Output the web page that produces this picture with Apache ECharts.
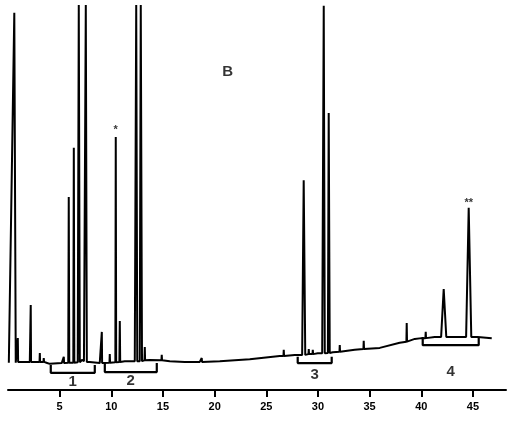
<!DOCTYPE html>
<html>
<head>
<meta charset="utf-8">
<script src="https://cdn.jsdelivr.net/npm/echarts@6/dist/echarts.min.js"></script>
<style>
html,body{margin:0;padding:0;background:#fff;}
#c{width:514px;height:424px;}
</style>
</head>
<body>
<div id="c"></div>
<script>
// Retention-time tick labels (min)
var tickLabels = [5, 10, 15, 20, 25, 30, 35, 40, 45];

// Baseline vertices of the trace (time in min, signal in relative units)
var baseTime  = [0.08, 0.85, 1.14, 2.11, 2.40, 3.72, 3.78, 4.04, 5.20, 7.15, 7.35, 7.91, 8.88, 11.30, 11.88, 13.72, 15.66, 17.11, 18.56, 20.50, 23.40, 26.30, 27.75, 29.98, 31.43, 33.56, 35.98, 37.91, 39.37, 40.04, 41.30, 42.95, 43.92, 45.46, 46.82];
var baseLevel = [7.0, 7.2, 7.2, 7.2, 7.2, 7.0, 6.7, 6.7, 6.9, 7.7, 7.4, 7.2, 6.9, 7.4, 7.4, 7.7, 7.4, 7.2, 7.2, 7.4, 7.9, 8.7, 9.0, 9.4, 9.7, 10.3, 10.8, 12.1, 13.1, 13.3, 13.6, 13.6, 13.6, 13.6, 13.3];

// Peaks: apex time, apex signal, foot level, rise and fall widths (min)
var peakTime = [0.61, 0.95, 2.20, 3.08, 3.46, 5.40, 5.88, 6.37, 6.85, 7.53, 9.08, 9.85, 10.43, 10.82, 12.41, 12.85, 13.24, 14.88, 18.75, 26.69, 28.62, 29.11, 29.50, 30.56, 31.04, 32.11, 34.43, 38.59, 40.43, 42.17, 44.59];
var peakTop  = [96.7, 13.3, 21.8, 9.5, 8.2, 8.5, 49.5, 62.1, 98.7, 98.7, 14.9, 9.2, 64.9, 17.7, 98.7, 98.7, 11.0, 9.0, 8.2, 10.3, 53.8, 10.5, 10.3, 98.5, 71.0, 11.5, 12.6, 17.2, 14.9, 25.9, 46.7];
var peakFoot = [7.0, 7.2, 7.2, 7.2, 7.2, 6.9, 7.0, 7.0, 7.1, 7.2, 6.9, 7.0, 7.1, 7.2, 7.4, 7.4, 7.6, 7.6, 7.2, 8.7, 9.0, 9.2, 9.2, 9.4, 9.5, 9.8, 10.5, 12.4, 13.3, 13.6, 13.6];
var peakRise = [0.45, 0.03, 0.03, 0.03, 0.03, 0.03, 0.05, 0.05, 0.10, 0.10, 0.03, 0.03, 0.04, 0.04, 0.14, 0.10, 0.03, 0.03, 0.03, 0.03, 0.15, 0.03, 0.03, 0.15, 0.08, 0.03, 0.03, 0.03, 0.03, 0.25, 0.25];
var peakFall = [0.14, 0.03, 0.03, 0.03, 0.03, 0.03, 0.05, 0.05, 0.10, 0.10, 0.03, 0.03, 0.04, 0.04, 0.10, 0.12, 0.03, 0.03, 0.03, 0.03, 0.15, 0.03, 0.03, 0.10, 0.10, 0.03, 0.03, 0.03, 0.03, 0.25, 0.25];

// Peak marks
var markText  = ['*', '**'];
var markTime  = [10.43, 44.59];
var markLevel = [66.7, 47.9];

// Fraction groups (brackets under the trace)
var groupNames  = ['1', '2', '3', '4'];
var groupStart  = [4.14, 9.37, 28.04, 40.14];
var groupEnd    = [8.40, 14.40, 31.33, 45.56];
var groupTop    = [6.4, 6.9, 8.5, 13.6];
var groupBottom = [4.4, 4.6, 6.9, 11.5];
var groupLabelLevel = [2.1, 2.4, 4.0, 4.7];

var panelLabel = 'B';
var panelTime = 21.27, panelLevel = 81.5;

// build trace
var pts = [];
for (var i = 0; i < baseTime.length; i++) pts.push([baseTime[i], baseLevel[i]]);
for (var j = 0; j < peakTime.length; j++) {
  pts.push([peakTime[j] - peakRise[j], peakFoot[j]]);
  pts.push([peakTime[j], peakTop[j]]);
  pts.push([peakTime[j] + peakFall[j], peakFoot[j]]);
}
pts.sort(function (a, b) { return a[0] - b[0]; });

var series = [{
  type: 'line', data: pts, showSymbol: false, silent: true,
  lineStyle: { color: '#000', width: 2 }, z: 3
}];
for (var k = 0; k < groupNames.length; k++) {
  series.push({
    type: 'line', showSymbol: false, silent: true,
    lineStyle: { color: '#000', width: 2.2 },
    data: [[groupStart[k], groupTop[k]], [groupStart[k], groupBottom[k]], [groupEnd[k], groupBottom[k]], [groupEnd[k], groupTop[k]]]
  });
}
var lbl = { show: true, position: 'inside', formatter: '{b}', color: '#000', textBorderWidth: 0, fontFamily: 'Liberation Sans' };
series.push({
  type: 'scatter', symbolSize: 0, silent: true,
  data: groupNames.map(function (n, k) { return { value: [(groupStart[k] + groupEnd[k]) / 2, groupLabelLevel[k]], name: n }; }),
  label: Object.assign({}, lbl, { fontWeight: 'bold', fontSize: 15 })
});
series.push({
  type: 'scatter', symbolSize: 0, silent: true,
  data: markText.map(function (n, k) { return { value: [markTime[k], markLevel[k]], name: n }; }),
  label: Object.assign({}, lbl, { fontWeight: 'bold', fontSize: 11 })
});
series.push({
  type: 'scatter', symbolSize: 0, silent: true,
  data: [{ value: [panelTime, panelLevel], name: panelLabel }],
  label: Object.assign({}, lbl, { fontWeight: 'bold', fontSize: 15 })
});

var chart = echarts.init(document.getElementById('c'), null, { renderer: 'canvas' });
chart.setOption({
  animation: false,
  backgroundColor: '#fff',
  grid: { left: 8, right: 8, top: 0, bottom: 34, containLabel: false },
  xAxis: {
    type: 'value', min: 0, max: 48.2,
    splitLine: { show: false },
    axisLine: { show: true, lineStyle: { color: '#000', width: 2 } },
    axisTick: { show: true, inside: false, length: 7, lineStyle: { color: '#000', width: 2 }, customValues: tickLabels },
    axisLabel: { show: true, margin: 11, color: '#000', fontFamily: 'Liberation Sans', fontWeight: 'bold', fontSize: 11, customValues: tickLabels }
  },
  yAxis: { type: 'value', min: 0, max: 100, show: false, splitLine: { show: false } },
  series: series
});
</script>
</body>
</html>
